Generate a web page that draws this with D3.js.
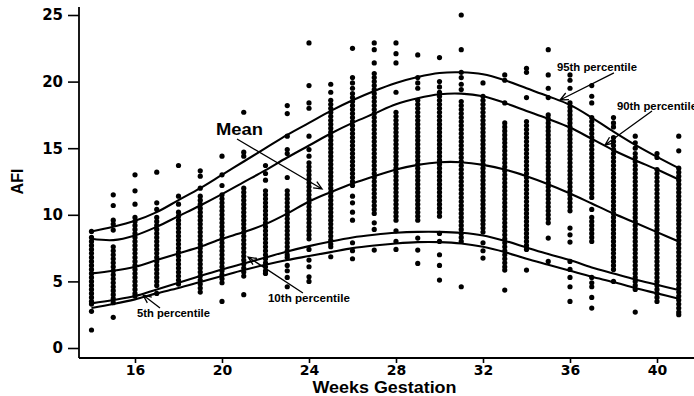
<!DOCTYPE html>
<html>
<head>
<meta charset="utf-8">
<script src="https://cdn.jsdelivr.net/npm/d3@7/dist/d3.min.js"></script>
<style>
  html, body { margin: 0; padding: 0; background: #fff; }
  svg { display: block; }
</style>
</head>
<body>
<svg id="chart" width="694" height="396"></svg>
<script>
// Gestational week of each column of measurements
const weeks = [14, 15, 16, 17, 18, 19, 20, 21, 22, 23, 24, 25, 26, 27,
               28, 29, 30, 31, 32, 33, 34, 35, 36, 37, 38, 39, 40, 41];

// Fitted AFI reference curves (cm), one value per week
const pct5 = [3.0, 3.3, 3.65, 4.1, 4.5, 4.95, 5.4, 5.85, 6.25, 6.6, 6.9, 7.2, 7.5, 7.7,
              7.85, 7.95, 7.95, 7.85, 7.6, 7.2, 6.7, 6.25, 5.8, 5.35, 4.95, 4.5, 4.1, 3.7];
const pct10 = [3.35, 3.6, 3.9, 4.4, 4.9, 5.4, 5.9, 6.35, 6.8, 7.25, 7.65, 8.0, 8.3, 8.5,
               8.65, 8.72, 8.72, 8.65, 8.45, 8.05, 7.55, 7.05, 6.6, 6.05, 5.6, 5.15, 4.75, 4.35];
const meanAfi = [5.6, 5.8, 6.1, 6.6, 7.1, 7.6, 8.2, 8.7, 9.3, 10.1, 11.0, 11.7, 12.35, 12.9,
                 13.4, 13.75, 13.95, 13.95, 13.75, 13.4, 12.9, 12.3, 11.6, 10.85, 10.1, 9.4, 8.7, 8.0];
const pct90 = [8.2, 8.1, 8.45, 9.1, 9.9, 10.7, 11.55, 12.45, 13.35, 14.3, 15.2, 16.1, 16.9, 17.6,
               18.3, 18.75, 19.05, 19.1, 18.9, 18.4, 17.8, 17.2, 16.55, 15.7, 14.85, 14.1, 13.4, 12.65];
const pct95 = [8.75, 9.1, 9.55, 10.2, 11.1, 12.0, 13.0, 14.0, 15.0, 16.0, 16.9, 17.8, 18.6, 19.3,
               19.9, 20.35, 20.65, 20.7, 20.55, 20.1, 19.5, 18.9, 18.25, 17.3, 16.25, 15.25, 14.35, 13.5];

// Individual AFI measurements, one list per week (same order as `weeks`)
const afiObservations = [
  [8.75, 8.3, 8.0, 7.7, 7.4, 7.1, 6.8, 6.5, 6.2, 5.9, 5.6, 5.3, 5.0, 4.7, 4.4, 4.1, 3.8, 3.5, 3.3, 2.75, 1.35],
  [11.5, 10.7, 9.6, 9.3, 8.85, 7.6, 7.3, 7.0, 6.7, 6.4, 6.1, 5.8, 5.5, 5.2, 4.9, 4.6, 4.3, 4.0, 3.7, 3.4, 2.3],
  [13.0, 11.8, 10.8, 9.8, 9.5, 9.2, 8.9, 8.6, 8.3, 8.0, 7.7, 7.4, 7.1, 6.8, 6.5, 6.2, 5.9, 5.6, 5.3, 5.0, 4.7, 4.4, 4.1, 3.9],
  [13.2, 10.9, 10.4, 9.8, 9.5, 9.2, 8.9, 8.6, 8.3, 8.0, 7.7, 7.4, 7.1, 6.8, 6.5, 6.2, 5.9, 5.6, 5.3, 5.0, 4.7, 4.1],
  [13.7, 11.4, 10.8, 10.2, 9.9, 9.6, 9.3, 9.0, 8.7, 8.4, 8.1, 7.8, 7.5, 7.2, 6.9, 6.6, 6.3, 6.0, 5.7, 5.4, 5.1, 4.8],
  [13.3, 12.9, 12.0, 11.4, 11.1, 10.8, 10.5, 10.2, 9.9, 9.6, 9.3, 9.0, 8.7, 8.4, 8.1, 7.8, 7.5, 7.2, 6.9, 6.6, 6.3, 6.0, 5.7, 5.4, 5.1, 4.8, 4.5, 4.2],
  [14.4, 13.0, 12.2, 11.5, 11.2, 10.9, 10.6, 10.3, 10.0, 9.7, 9.4, 9.1, 8.8, 8.5, 8.2, 7.9, 7.6, 7.3, 7.0, 6.7, 6.4, 6.1, 5.8, 5.5, 5.2, 4.9, 3.5],
  [17.7, 14.7, 14.4, 12.0, 11.7, 11.4, 11.1, 10.8, 10.5, 10.2, 9.9, 9.6, 9.3, 9.0, 8.7, 8.4, 8.1, 7.8, 7.5, 7.2, 6.9, 6.6, 6.3, 6.0, 5.7, 5.4, 4.0],
  [13.7, 13.1, 12.6, 11.8, 11.5, 11.2, 10.9, 10.6, 10.3, 10.0, 9.7, 9.4, 9.1, 8.8, 8.5, 8.2, 7.9, 7.6, 7.3, 7.0, 6.7, 6.4, 6.1, 5.8, 5.6],
  [18.2, 17.6, 15.9, 14.9, 14.6, 12.8, 11.8, 11.5, 11.2, 10.9, 10.6, 10.3, 10.0, 9.7, 9.4, 9.1, 8.8, 8.5, 8.2, 7.9, 7.6, 7.3, 7.0, 6.8, 6.2, 5.8, 5.3, 4.6],
  [22.9, 19.7, 18.4, 18.0, 15.9, 14.9, 14.4, 13.9, 13.6, 13.3, 13.0, 12.7, 12.4, 12.1, 11.8, 11.5, 11.2, 10.9, 10.6, 10.3, 10.0, 9.7, 9.4, 9.1, 8.8, 8.5, 8.2, 7.4, 6.6, 6.1, 5.35, 5.0],
  [19.8, 19.2, 18.6, 18.3, 18.0, 17.7, 17.4, 17.1, 16.8, 16.5, 16.2, 15.9, 15.6, 15.3, 15.0, 14.7, 14.4, 14.1, 13.8, 13.5, 13.2, 12.9, 12.6, 12.3, 12.0, 11.7, 11.4, 11.1, 10.8, 10.5, 10.2, 9.9, 9.6, 9.3, 9.0, 8.7, 8.4, 8.1, 7.8, 7.6, 6.85],
  [22.5, 20.3, 19.9, 19.5, 19.1, 18.8, 18.5, 18.2, 17.9, 17.6, 17.3, 17.0, 16.7, 16.4, 16.1, 15.8, 15.5, 15.2, 14.9, 14.6, 14.3, 14.0, 13.7, 13.4, 13.1, 12.8, 12.5, 12.2, 11.4, 10.9, 10.2, 9.6, 7.9, 7.3, 6.7],
  [22.9, 22.4, 21.4, 20.6, 20.3, 20.0, 19.7, 19.4, 19.1, 18.8, 18.5, 18.2, 17.9, 17.6, 17.3, 17.0, 16.7, 16.4, 16.1, 15.8, 15.5, 15.2, 14.9, 14.6, 14.3, 14.0, 13.7, 13.4, 13.1, 12.8, 12.5, 12.2, 11.9, 11.6, 11.3, 11.0, 10.7, 10.4, 10.1, 9.4, 8.9, 7.35],
  [22.9, 22.1, 21.4, 19.2, 17.7, 17.4, 17.1, 16.8, 16.5, 16.2, 15.9, 15.6, 15.3, 15.0, 14.7, 14.4, 14.1, 13.8, 13.5, 13.2, 12.9, 12.6, 12.3, 12.0, 11.7, 11.4, 11.1, 10.8, 10.5, 10.2, 9.9, 9.6, 8.8, 8.0, 7.4],
  [22.0, 20.3, 19.9, 19.5, 18.6, 18.3, 18.0, 17.7, 17.4, 17.1, 16.8, 16.5, 16.2, 15.9, 15.6, 15.3, 15.0, 14.7, 14.4, 14.1, 13.8, 13.5, 13.2, 12.9, 12.6, 12.3, 12.0, 11.7, 11.4, 11.1, 10.8, 10.5, 10.2, 9.9, 9.6, 8.25, 7.35, 6.35],
  [21.8, 20.0, 19.6, 19.2, 18.9, 18.6, 18.3, 18.0, 17.7, 17.4, 17.1, 16.8, 16.5, 16.2, 15.9, 15.6, 15.3, 15.0, 14.7, 14.4, 14.1, 13.8, 13.5, 13.2, 12.9, 12.6, 12.3, 12.0, 11.7, 11.4, 11.1, 10.8, 10.5, 10.2, 9.9, 8.6, 8.0, 7.0, 6.2, 5.1],
  [25.0, 22.4, 20.7, 20.3, 19.8, 19.4, 18.5, 18.2, 17.9, 17.6, 17.3, 17.0, 16.7, 16.4, 16.1, 15.8, 15.5, 15.2, 14.9, 14.6, 14.3, 14.0, 13.7, 13.4, 13.1, 12.8, 12.5, 12.2, 11.9, 11.6, 11.3, 11.0, 10.7, 10.4, 10.1, 9.8, 9.5, 9.2, 8.9, 8.6, 8.3, 8.0, 4.6],
  [19.9, 18.9, 18.6, 18.3, 18.0, 17.7, 17.4, 17.1, 16.8, 16.5, 16.2, 15.9, 15.6, 15.3, 15.0, 14.7, 14.4, 14.1, 13.8, 13.5, 13.2, 12.9, 12.6, 12.3, 12.0, 11.7, 11.4, 11.1, 10.8, 10.5, 10.2, 9.9, 9.6, 9.3, 9.0, 8.7, 7.9, 7.3, 6.75],
  [20.5, 20.1, 18.4, 16.9, 16.6, 16.3, 16.0, 15.7, 15.4, 15.1, 14.8, 14.5, 14.2, 13.9, 13.6, 13.3, 13.0, 12.7, 12.4, 12.1, 11.8, 11.5, 11.2, 10.9, 10.6, 10.3, 10.0, 9.7, 9.4, 9.1, 8.8, 8.5, 8.2, 7.9, 7.6, 7.3, 7.0, 6.7, 6.4, 6.1, 5.85, 4.35],
  [21.0, 20.7, 18.8, 17.0, 16.7, 16.4, 16.1, 15.8, 15.5, 15.2, 14.9, 14.6, 14.3, 14.0, 13.7, 13.4, 13.1, 12.8, 12.5, 12.2, 11.9, 11.6, 11.3, 11.0, 10.7, 10.4, 10.1, 9.8, 9.5, 9.2, 8.9, 8.6, 8.3, 8.0, 7.7, 7.4, 5.85],
  [22.4, 20.5, 19.5, 18.8, 17.5, 17.2, 16.9, 16.6, 16.3, 16.0, 15.7, 15.4, 15.1, 14.8, 14.5, 14.2, 13.9, 13.6, 13.3, 13.0, 12.7, 12.4, 12.1, 11.8, 11.5, 11.2, 10.9, 10.6, 10.3, 10.0, 9.7, 9.4, 8.25, 6.5],
  [20.5, 20.1, 19.5, 18.4, 18.1, 17.8, 17.5, 17.2, 16.9, 16.6, 16.3, 16.0, 15.7, 15.4, 15.1, 14.8, 14.5, 14.2, 13.9, 13.6, 13.3, 13.0, 12.7, 12.4, 12.1, 11.8, 11.5, 11.2, 10.9, 10.6, 10.3, 9.0, 8.5, 7.95, 6.5, 5.9, 5.3, 4.6, 3.5],
  [19.7, 18.9, 18.4, 17.3, 17.0, 16.7, 16.4, 16.1, 15.8, 15.5, 15.2, 14.9, 14.6, 14.3, 14.0, 13.7, 13.4, 13.1, 12.8, 12.5, 12.2, 11.9, 11.6, 11.3, 10.4, 9.8, 9.5, 9.2, 8.9, 8.6, 8.3, 8.0, 5.3, 4.9, 4.6, 3.8, 3.0],
  [17.3, 16.9, 16.6, 15.8, 15.5, 15.2, 14.9, 14.6, 14.3, 14.0, 13.7, 13.4, 13.1, 12.8, 12.5, 12.2, 11.9, 11.6, 11.3, 11.0, 10.7, 10.4, 10.1, 9.8, 9.5, 9.2, 8.9, 8.6, 8.3, 8.0, 7.7, 7.4, 7.1, 6.8, 6.5, 6.2, 5.9, 5.0],
  [15.9, 15.4, 15.0, 14.6, 14.3, 14.0, 13.7, 13.4, 13.1, 12.8, 12.5, 12.2, 11.9, 11.6, 11.3, 11.0, 10.7, 10.4, 10.1, 9.8, 9.5, 9.2, 8.9, 8.6, 8.3, 8.0, 7.7, 7.4, 7.1, 6.8, 6.5, 6.2, 5.9, 5.6, 5.3, 5.0, 4.7, 4.4, 2.7],
  [14.6, 14.3, 13.4, 13.1, 12.8, 12.5, 12.2, 11.9, 11.6, 11.3, 11.0, 10.7, 10.4, 10.1, 9.8, 9.5, 9.2, 8.9, 8.6, 8.3, 8.0, 7.7, 7.4, 7.1, 6.8, 6.5, 6.2, 5.9, 5.6, 5.3, 5.0, 4.7, 4.4, 4.1, 3.8, 3.5],
  [15.9, 14.8, 13.5, 13.2, 12.9, 12.6, 12.3, 12.0, 11.7, 11.4, 11.1, 10.8, 10.5, 10.2, 9.9, 9.6, 9.3, 9.0, 8.7, 8.4, 8.1, 7.8, 7.5, 7.2, 6.9, 6.6, 6.3, 6.0, 5.7, 5.4, 5.1, 4.8, 4.5, 4.2, 3.9, 3.6, 3.3, 3.0, 2.7, 2.5]
];

const xTickWeeks = [16, 20, 24, 28, 32, 36, 40];
const yTickValues = [0, 5, 10, 15, 20, 25];

// Curve captions: text anchor and arrow (tail -> head), in week / AFI units
const curveNotes = [
  { text: "Mean",            at: [19.72, 15.99], from: [20.69, 15.69], to: [24.60, 11.94], size: 16, len: 47 },
  { text: "95th percentile", at: [35.40, 20.80], from: [38.02, 20.65], to: [35.54, 18.62], size: 11, len: 80 },
  { text: "90th percentile", at: [38.16, 17.87], from: [39.77, 17.79], to: [37.61, 15.24], size: 11, len: 80 },
  { text: "10th percentile", at: [22.11, 3.45],  from: [23.72, 4.13],  to: [21.20, 6.83],  size: 11, len: 82 },
  { text: "5th percentile",  at: [16.09, 2.33],  from: [17.15, 3.00],  to: [16.37, 3.98],  size: 11, len: 73 }
];

const svg = d3.select("#chart");

const x = d3.scaleLinear().domain([14, 41]).range([91.5, 678.75]);
const y = d3.scaleLinear().domain([0, 25]).range([348, 15]);

const axisX0 = 79;   // left edge of plotting frame
const axisY0 = 358;  // bottom edge of plotting frame

// ---- scatter of individual measurements
const points = [];
weeks.forEach((w, i) => afiObservations[i].forEach(v => points.push({ w, v })));

svg.append("g")
  .selectAll("circle")
  .data(points)
  .join("circle")
  .attr("cx", d => x(d.w))
  .attr("cy", d => y(d.v))
  .attr("r", 2.6)
  .attr("fill", "#000");

// ---- reference curves
const line = d3.line()
  .x((d, i) => x(weeks[i]))
  .y(d => y(d))
  .curve(d3.curveCatmullRom.alpha(0.5));

svg.append("g")
  .selectAll("path")
  .data([pct5, pct10, meanAfi, pct90, pct95])
  .join("path")
  .attr("d", line)
  .attr("fill", "none")
  .attr("stroke", "#000")
  .attr("stroke-width", 2.1);

// ---- axes
const yAxis = d3.axisLeft(y)
  .tickValues(yTickValues)
  .tickSize(11)
  .tickPadding(5);

const gy = svg.append("g")
  .attr("transform", `translate(${axisX0},0)`)
  .call(yAxis);

const xAxis = d3.axisBottom(x)
  .tickValues(xTickWeeks)
  .tickSize(5)
  .tickPadding(2);

const gx = svg.append("g")
  .attr("transform", `translate(0,${axisY0})`)
  .call(xAxis);

[gx, gy].forEach(g => {
  g.select(".domain").remove();
  g.selectAll(".tick line").attr("stroke", "#000").attr("stroke-width", 1.6);
  g.selectAll(".tick text")
    .attr("fill", "#000")
    .style("font-family", "'DejaVu Sans', sans-serif")
    .style("font-weight", "bold")
    .style("font-size", "15px");
});
gx.selectAll(".tick text").style("font-size", "14px");

// frame lines (y axis runs past the top tick, x axis to the page edge)
svg.append("line")
  .attr("x1", axisX0).attr("x2", axisX0)
  .attr("y1", y(25.6)).attr("y2", axisY0)
  .attr("stroke", "#000").attr("stroke-width", 1.8);
svg.append("line")
  .attr("x1", axisX0).attr("x2", 694)
  .attr("y1", axisY0).attr("y2", axisY0)
  .attr("stroke", "#000").attr("stroke-width", 1.8);

// ---- axis titles
svg.append("text")
  .attr("x", (axisX0 + 694) / 2 - 2)
  .attr("y", 393)
  .attr("text-anchor", "middle")
  .attr("textLength", 144)
  .attr("lengthAdjust", "spacingAndGlyphs")
  .style("font-family", "'Liberation Sans', Arial, sans-serif")
  .style("font-weight", "bold")
  .style("font-size", "16px")
  .text("Weeks Gestation");

svg.append("text")
  .attr("transform", `translate(23,${y(12.5)}) rotate(-90)`)
  .attr("text-anchor", "middle")
  .style("font-family", "'Liberation Sans', Arial, sans-serif")
  .style("font-weight", "bold")
  .style("font-size", "16px")
  .text("AFI");

// ---- captions with open arrowheads
const notes = svg.append("g");
curveNotes.forEach(n => {
  notes.append("text")
    .attr("x", x(n.at[0]))
    .attr("y", y(n.at[1]))
    .attr("textLength", n.len)
    .attr("lengthAdjust", "spacingAndGlyphs")
    .style("font-family", "'Liberation Sans', Arial, sans-serif")
    .style("font-weight", "bold")
    .style("font-size", n.size + "px")
    .text(n.text);

  const x1 = x(n.from[0]), y1 = y(n.from[1]);
  const x2 = x(n.to[0]),   y2 = y(n.to[1]);
  const ang = Math.atan2(y2 - y1, x2 - x1);
  const head = 9, spread = 0.42;
  const hx1 = x2 - head * Math.cos(ang - spread), hy1 = y2 - head * Math.sin(ang - spread);
  const hx2 = x2 - head * Math.cos(ang + spread), hy2 = y2 - head * Math.sin(ang + spread);
  notes.append("path")
    .attr("d", `M${x1},${y1}L${x2},${y2}M${hx1},${hy1}L${x2},${y2}L${hx2},${hy2}`)
    .attr("fill", "none")
    .attr("stroke", "#000")
    .attr("stroke-width", 1.3);
});
</script>
</body>
</html>
